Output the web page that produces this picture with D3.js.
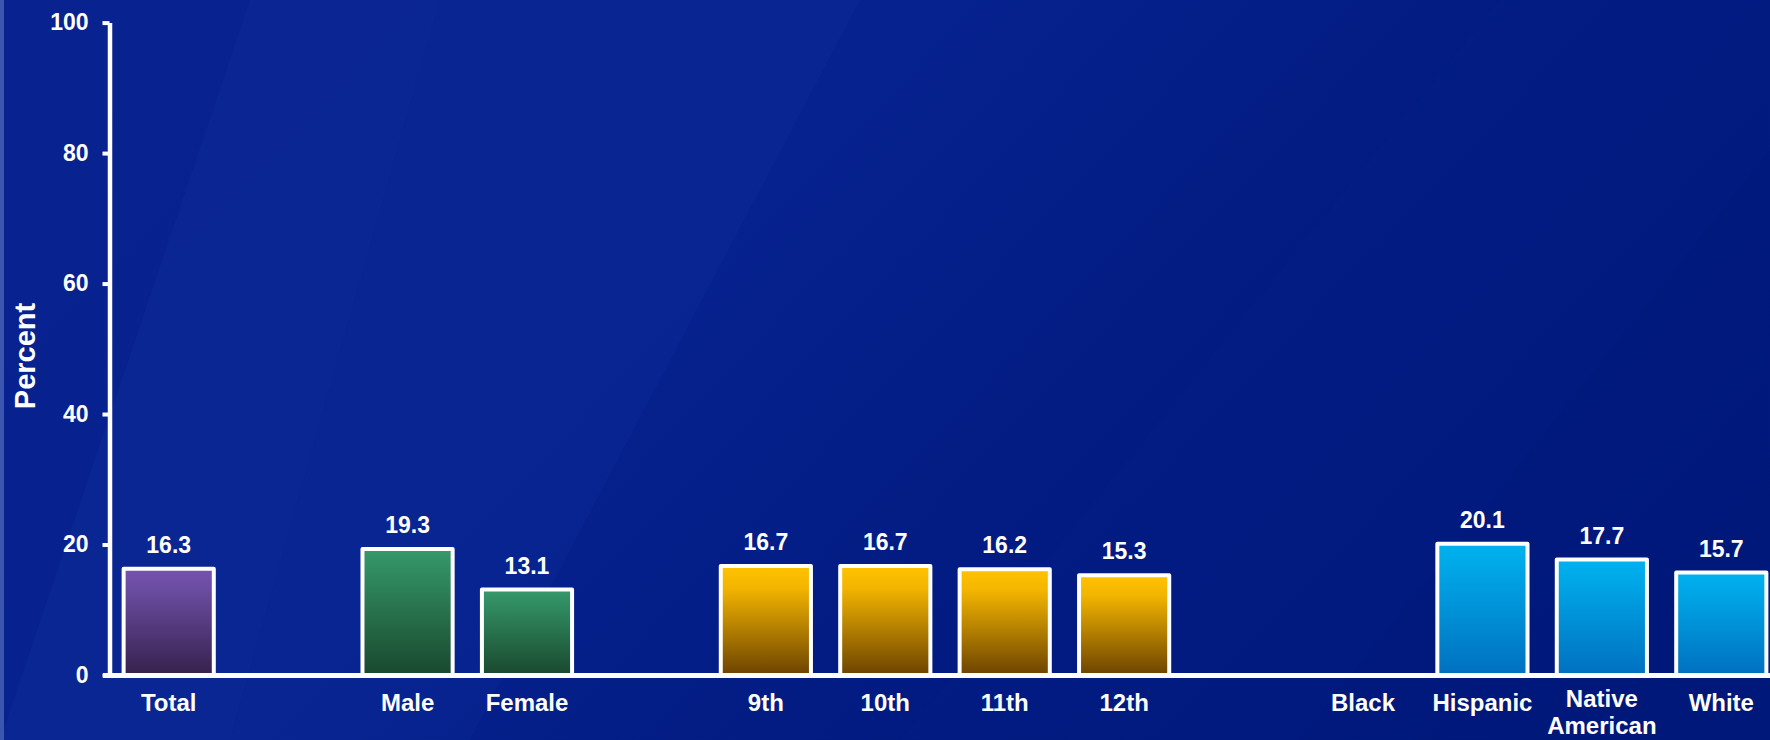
<!DOCTYPE html>
<html>
<head>
<meta charset="utf-8">
<script src="https://cdn.jsdelivr.net/npm/d3@7"></script>
<style>
  html, body { margin: 0; padding: 0; background: #021a80; }
  svg { display: block; }
  text { font-family: "Liberation Sans", Arial, Helvetica, sans-serif; font-weight: bold; fill: #ffffff; }
</style>
</head>
<body>
<svg id="chart" width="1770" height="740"></svg>
<script>
// Percent of students, by subgroup
const categories = ["Total", "Male", "Female", "9th", "10th", "11th", "12th", "Black", "Hispanic", "Native American", "White"];
const values     = [16.3, 19.3, 13.1, 16.7, 16.7, 16.2, 15.3, null, 20.1, 17.7, 15.7];
const groups     = ["total", "sex", "sex", "grade", "grade", "grade", "grade", "race", "race", "race", "race"];
// Slot order along the x axis, with empty spacer slots between groups
const slots      = ["Total", "gap1", "Male", "Female", "gap2", "9th", "10th", "11th", "12th", "gap3", "Black", "Hispanic", "Native American", "White"];
const yTicks     = [0, 20, 40, 60, 80, 100];
const yTitle     = "Percent";

const groupColors = {
  total: ["#7554b2", "#6a4ca0", "#36214d"],
  sex:   ["#36996b", "#308a5f", "#19482e"],
  grade: ["#ffc300", "#f3b500", "#6c4300"],
  race:  ["#00b2f0", "#00a6e6", "#0070c0"]
};

const svg = d3.select("#chart");
const W = 1770, H = 740;

// ---- background ----
const defs = svg.append("defs");
const bg = defs.append("linearGradient").attr("id", "bg")
  .attr("x1", "0").attr("y1", "0.3").attr("x2", "1").attr("y2", "0.7");
bg.append("stop").attr("offset", "0").attr("stop-color", "#08228f");
bg.append("stop").attr("offset", "0.35").attr("stop-color", "#06228e");
bg.append("stop").attr("offset", "0.7").attr("stop-color", "#011a80");
bg.append("stop").attr("offset", "1").attr("stop-color", "#00187a");
svg.append("rect").attr("width", W).attr("height", H).attr("fill", "url(#bg)");

// soft diagonal sheen bands
const sheen = [
  { pts: [[0, 740], [230, 740], [440, 0], [250, 0]], op: 0.045 },
  { pts: [[230, 740], [470, 740], [860, 0], [440, 0]], op: 0.035 },
  { pts: [[900, 740], [1300, 740], [1770, 150], [1770, 0], [1500, 0]], op: 0.015 }
];
svg.append("g").selectAll("path").data(sheen).join("path")
  .attr("d", d => "M" + d.pts.map(p => p.join(",")).join("L") + "Z")
  .attr("fill", "#5a8cff")
  .attr("opacity", d => d.op);
svg.append("rect").attr("x", 0).attr("y", 0).attr("width", 4).attr("height", H)
  .attr("fill", "#4a64b8").attr("opacity", 0.8);

// ---- gradients for bars ----
Object.entries(groupColors).forEach(([k, c]) => {
  const g = defs.append("linearGradient").attr("id", "grad-" + k)
    .attr("x1", "0").attr("y1", "0").attr("x2", "0").attr("y2", "1");
  g.append("stop").attr("offset", "0").attr("stop-color", c[0]);
  g.append("stop").attr("offset", "0.2").attr("stop-color", c[1]);
  g.append("stop").attr("offset", "1").attr("stop-color", c[2]);
});

// ---- scales ----
const x = d3.scaleBand().domain(slots).range([109, 1781])
  .paddingInner(0.245).paddingOuter(0.1225);
const y = d3.scaleLinear().domain([0, 100]).range([675, 22.6]);

const data = categories.map((c, i) => ({ cat: c, value: values[i], group: groups[i] }));

// ---- bars ----
svg.append("g").selectAll("rect").data(data.filter(d => d.value != null)).join("rect")
  .attr("x", d => x(d.cat))
  .attr("width", x.bandwidth())
  .attr("y", d => y(d.value))
  .attr("height", d => y(0) - y(d.value))
  .attr("fill", d => "url(#grad-" + d.group + ")")
  .attr("stroke", "#ffffff")
  .attr("stroke-width", 4)
  .attr("stroke-linejoin", "round");

// ---- value labels ----
svg.append("g").selectAll("text").data(data.filter(d => d.value != null)).join("text")
  .attr("x", d => x(d.cat) + x.bandwidth() / 2)
  .attr("y", d => y(d.value) - 16)
  .attr("text-anchor", "middle")
  .style("font-size", "23px")
  .text(d => d.value.toFixed(1));

// ---- y axis ----
const yAxis = svg.append("g").attr("transform", "translate(109.5,0)")
  .call(d3.axisLeft(y).tickValues(yTicks).tickSize(7).tickSizeOuter(0).tickPadding(14));
yAxis.select(".domain").attr("stroke", "#ffffff").attr("stroke-width", 4.5);
yAxis.selectAll(".tick line").attr("stroke", "#ffffff").attr("stroke-width", 4);
yAxis.selectAll(".tick text")
  .style("font-size", "23px").style("font-family", "'Liberation Sans', Arial, sans-serif")
  .style("font-weight", "bold").attr("fill", "#ffffff");

// ---- x axis ----
const xAxis = svg.append("g").attr("transform", "translate(0," + y(0) + ")")
  .call(d3.axisBottom(x).tickValues(categories).tickSize(0).tickPadding(0));
xAxis.select(".domain").remove();
xAxis.selectAll(".tick text").remove();
svg.append("line")
  .attr("x1", 103).attr("x2", W).attr("y1", y(0) + 0.5).attr("y2", y(0) + 0.5)
  .attr("stroke", "#ffffff").attr("stroke-width", 5);

xAxis.selectAll(".tick").each(function (d) {
  const words = d === "Native American" ? ["Native", "American"] : [d];
  const t = d3.select(this).append("text")
    .attr("text-anchor", "middle")
    .style("font-size", "24px");
  words.forEach((w, i) => {
    const yy = words.length > 1 ? 31.5 + i * 27.5 : 36;
    t.append("tspan").attr("x", 0).attr("y", yy).text(w);
  });
});

// ---- y title ----
svg.append("text")
  .attr("transform", "translate(35,356) rotate(-90)")
  .attr("text-anchor", "middle")
  .style("font-size", "29px")
  .text(yTitle);
</script>
</body>
</html>
